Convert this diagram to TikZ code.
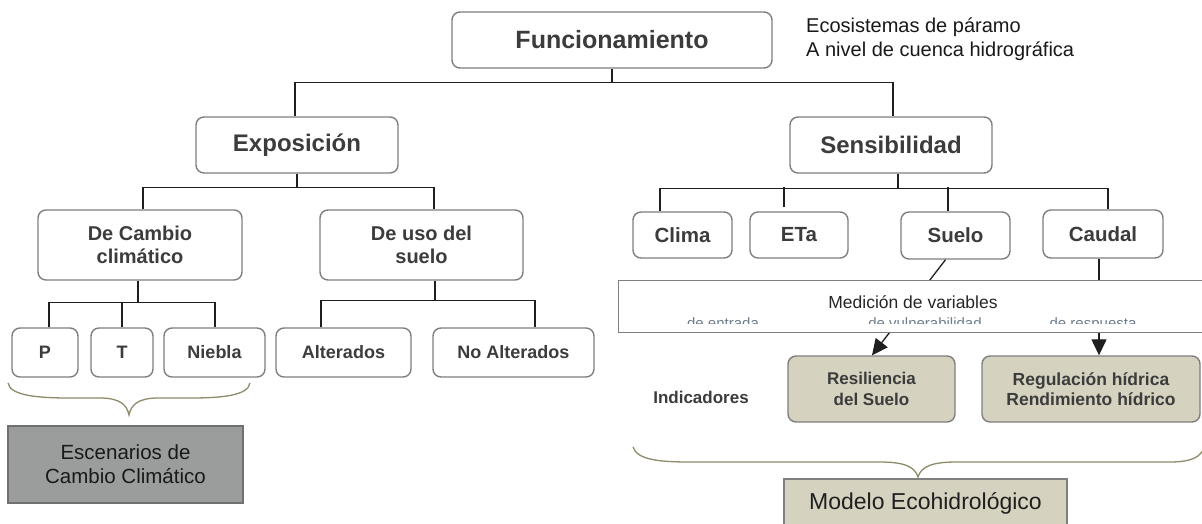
\documentclass[tikz,border=0pt]{standalone}
\usepackage{fontspec}
\setmainfont{Liberation Sans}
\usetikzlibrary{arrows.meta}
\definecolor{boxgray}{HTML}{7F7F7F}
\definecolor{txtgray}{HTML}{3C3C3C}
\definecolor{beige}{HTML}{D5D2BF}
\definecolor{scengray}{HTML}{9B9D9D}
\definecolor{scenborder}{HTML}{707070}
\definecolor{bracecol}{HTML}{8E8B6B}
\definecolor{subtxt}{HTML}{6E7E8E}
\newcommand\myfs[2]{\fontsize{#1}{#2}\selectfont}
\begin{document}
\begin{tikzpicture}[x=1pt,y=-1pt,
  rbox/.style={draw=boxgray,line width=1.4pt,rounded corners=8pt,fill=white,inner sep=0pt,text=txtgray,align=center},
  conn/.style={draw=black!88,line width=1.3pt},
  tiparrow/.style={-{Triangle[length=16pt,width=15pt]}},
  bracepath/.style={draw=bracecol,line width=1.3pt}]
\useasboundingbox[fill=white] (0,0) rectangle (1202,523);

% top level
\node[rbox,minimum width=320pt,minimum height=56pt,font=\bfseries\myfs{25}{30}] (fun) at (612,40) {Funcionamiento};
\node[anchor=west,align=left,inner sep=0pt,font=\myfs{20}{24},text=black!90] (eco) at (806,39) {Ecosistemas de páramo\\A nivel de cuenca hidrográfica};

% second level
\node[rbox,minimum width=202pt,minimum height=56pt,font=\bfseries\myfs{24}{28}] (expo) at (297,145) {Exposición};
\node[rbox,minimum width=202pt,minimum height=56pt,font=\bfseries\myfs{24}{28}] (sens) at (891,145) {Sensibilidad};

% exposure branch
\node[rbox,minimum width=204pt,minimum height=70pt,font=\bfseries\myfs{20}{23.5}] (cc) at (140,245) {De Cambio\\climático};
\node[rbox,minimum width=203pt,minimum height=70pt,font=\bfseries\myfs{20}{23.5}] (uso) at (421.5,245) {De uso del\\suelo};
\node[rbox,minimum width=66pt,minimum height=49pt,font=\bfseries\myfs{18}{21}] (p) at (45,352.5) {P};
\node[rbox,minimum width=62pt,minimum height=49pt,font=\bfseries\myfs{18}{21}] (t) at (122,352.5) {T};
\node[rbox,minimum width=101pt,minimum height=49pt,font=\bfseries\myfs{18}{21}] (nb) at (214.5,352.5) {Niebla};
\node[rbox,minimum width=135pt,minimum height=49pt,font=\bfseries\myfs{18}{21}] (alt) at (343.5,352.5) {Alterados};
\node[rbox,minimum width=161pt,minimum height=49pt,font=\bfseries\myfs{18}{21}] (noalt) at (513.5,352.5) {No Alterados};
\node[draw=scenborder,line width=1.1pt,fill=scengray,inner sep=0pt,minimum width=235pt,minimum height=77pt,align=center,font=\myfs{20.5}{24},text=black!90] (esc) at (125.5,464.5) {Escenarios de\\Cambio Climático};

% sensitivity branch
\node[rbox,minimum width=99pt,minimum height=46pt,font=\bfseries\myfs{20.5}{23}] (clima) at (682.5,235) {Clima};
\node[rbox,minimum width=98pt,minimum height=46pt,font=\bfseries\myfs{20.5}{23}] (eta) at (799,235) {ETa};
\node[rbox,minimum width=109pt,minimum height=47pt,font=\bfseries\myfs{20.5}{23}] (suelo) at (955.5,235.5) {Suelo};
\node[rbox,minimum width=120pt,minimum height=48pt,font=\bfseries\myfs{20.5}{23}] (cau) at (1103,234) {Caudal};

\node[rbox,fill=beige,minimum width=167pt,minimum height=66pt,font=\bfseries\myfs{17}{21}] (res) at (871.5,389) {Resiliencia\\del Suelo};
\node[rbox,fill=beige,minimum width=218pt,minimum height=66pt,font=\bfseries\myfs{17.5}{20.5}] (reg) at (1091,389) {Regulación hídrica\\Rendimiento hídrico};
\node[font=\bfseries\myfs{17}{20},text=txtgray,inner sep=0pt] (ind) at (701,397) {Indicadores};
\node[draw=boxgray,line width=1.2pt,fill=beige,inner sep=0pt,minimum width=283pt,minimum height=48pt,font=\myfs{23}{27},text=black!88] (mod) at (925.5,503) {\raisebox{3pt}{Modelo Ecohidrológico}};

% connectors: top
\draw[conn] (fun.south) -- ++(0,14) coordinate (busF);
\draw[conn] ([xshift=-2pt]expo.north) |- (busF) -| ([xshift=2pt]sens.north);
% exposure
\draw[conn] (expo.south) -- ++(0,14) coordinate (busE);
\draw[conn] ([xshift=3pt]cc.north) |- (busE) -| ([xshift=12.5pt]uso.north);
\draw[conn] ([xshift=-2pt]cc.south) -- ++(0,22) coordinate (busC);
\draw[conn] ([xshift=4pt]p.north) |- (busC) -| ([xshift=0.5pt]nb.north);
\draw[conn] (t.north) -- ++(0,-25.5);
\draw[conn] ([xshift=13.5pt]uso.south) -- ++(0,20) coordinate (busU);
\draw[conn] ([xshift=-22.5pt]alt.north) |- (busU) -| ([xshift=21.5pt]noalt.north);
% sensitivity
\draw[conn] ([xshift=7pt]sens.south) -- ++(0,15) coordinate (busS);
\draw[conn] ([xshift=-22.5pt]clima.north) |- (busS) -| ([xshift=5pt]cau.north);
\draw[conn] ([xshift=-15pt,yshift=4pt]eta.north) -- ++(0,-20);
\draw[conn] ([xshift=-7.5pt]suelo.north) -- ++(0,-24);

% arrows to indicators (partly hidden by the measurement box)
\draw[conn,tiparrow] ([xshift=-10pt]suelo.south) -- ([xshift=0.5pt]res.north);
\path ([xshift=-4pt]cau.south) coordinate (cq);
\draw[conn,tiparrow] (cq) -- (cq |- res.north);

% measurement box
\node[draw=boxgray,line width=1.2pt,fill=white,inner sep=0pt,minimum width=592pt,minimum height=52pt,anchor=north west] (med) at (618,280) {};
\node[font=\myfs{17.5}{20},text=black!85,inner sep=0pt] (medt) at (913,302) {Medición de variables};
\begin{scope}
\clip (619,281) rectangle (1202,323.5);
\node[anchor=base,inner sep=0pt,font=\myfs{15}{18},text=subtxt] (v1) at (723,328) {de entrada};
\node[anchor=base,inner sep=0pt,font=\myfs{15}{18},text=subtxt] (v2) at (925,328) {de vulnerabilidad};
\node[anchor=base,inner sep=0pt,font=\myfs{15}{18},text=subtxt] (v3) at (1093,328) {de respuesta};
\end{scope}

% braces
\draw[bracepath] (8,383) .. controls (10,396) and (40,398) .. (70,398) -- (100,398) .. controls (120,398) and (127,405) .. (129,415) .. controls (131,405) and (138,398) .. (158,398) -- (190,398) .. controls (220,398) and (248,396) .. (250,383);
\draw[bracepath] (633,447) .. controls (637,460) and (660,462) .. (690,462) -- (880,462) .. controls (905,462) and (915,467) .. (918,477) .. controls (921,467) and (931,462) .. (956,462) -- (1170,462) .. controls (1195,462) and (1200,455) .. (1203,450);
\end{tikzpicture}
\end{document}
